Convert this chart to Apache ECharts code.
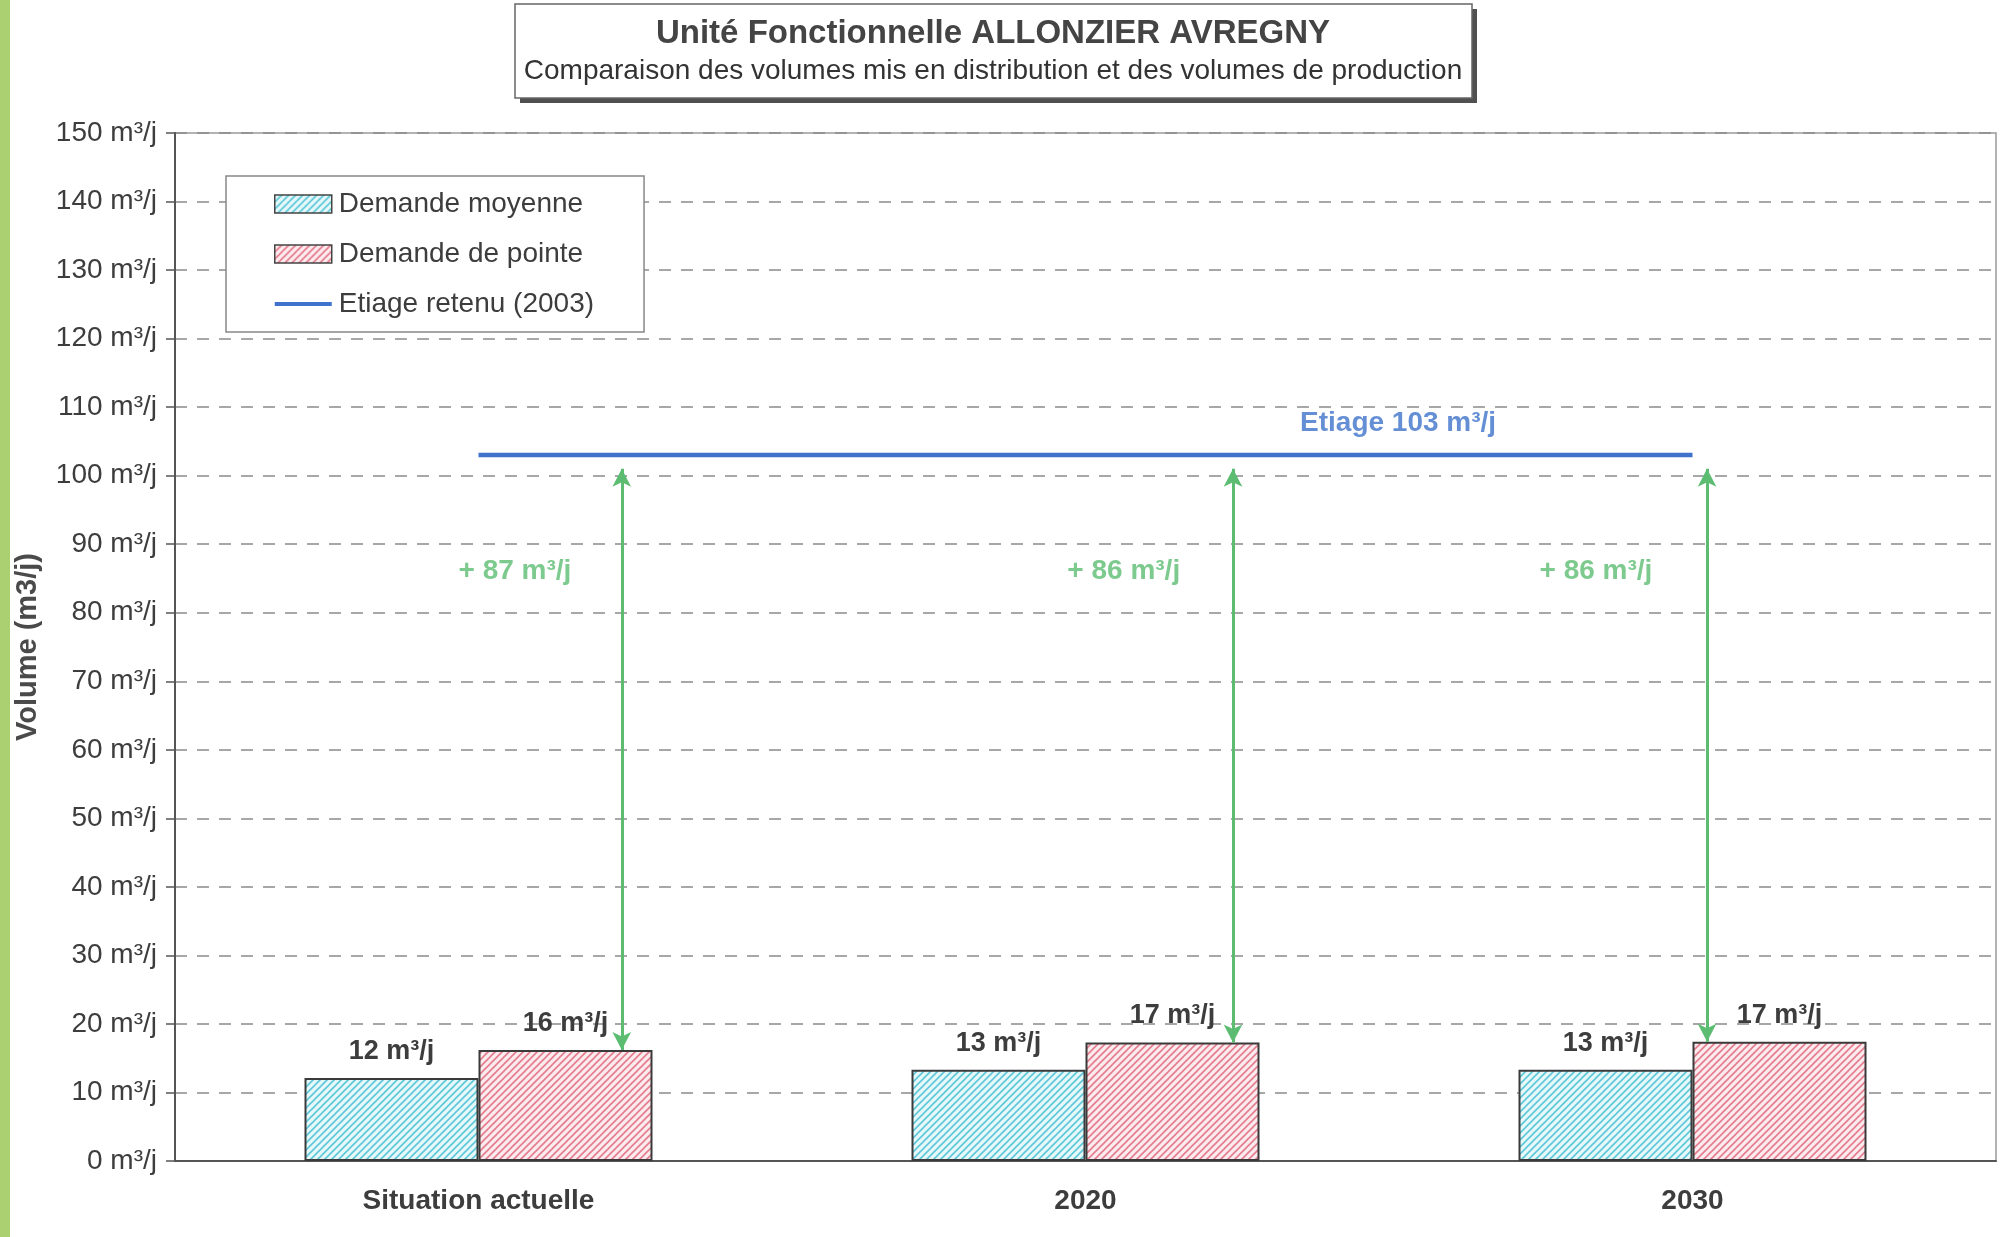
<!DOCTYPE html>
<html>
<head>
<meta charset="utf-8">
<script src="https://cdn.jsdelivr.net/npm/echarts@6/dist/echarts.min.js"></script>
<style>
  html, body { margin: 0; padding: 0; background: #fff; }
  #chart { width: 2002px; height: 1237px; }
</style>
</head>
<body>
<div id="chart"></div>
<script>
var categories = ['Situation actuelle', '2020', '2030'];
var demandeMoyenne = [12.1, 13.3, 13.3];
var demandePointe = [16.2, 17.3, 17.4];
var etiage = [103, 103, 103];
var etiageLabel = 'Etiage 103 m³/j';

// hachures des barres
function hatch(bg, line) {
	var c = document.createElement('canvas');
	c.width = 7;
	c.height = 7;
	var ctx = c.getContext('2d');
	ctx.fillStyle = bg;
	ctx.fillRect(0, 0, 7, 7);
	ctx.strokeStyle = line;
	ctx.lineWidth = 1.6;
	ctx.beginPath();
	ctx.moveTo(-1, 8); ctx.lineTo(8, -1);
	ctx.moveTo(-1, 1); ctx.lineTo(1, -1);
	ctx.moveTo(6, 8); ctx.lineTo(8, 6);
	ctx.stroke();
	return { image: c, repeat: 'repeat' };
}

var textColor = '#3d3d3d';
var green = '#5cbd72';
var blue = '#3f73cb';

// fleches entre l'etiage et la demande de pointe
var arrowOffset = [0.736, 0.743, 0.524];
var gapOffset = [0.56, 0.563, 0.341];
var arrows = [];
var gaps = [];
for (var i = 0; i < categories.length; i++) {
	var x = i + arrowOffset[i];
	arrows.push([{ coord: [x, etiage[i] - 2] }, { coord: [x, demandePointe[i]] }]);
	gaps.push({
		value: [i + gapOffset[i], 86],
		name: '+ ' + Math.round(etiage[i] - demandePointe[i]) + ' m³/j'
	});
}

var option = {
	backgroundColor: '#fff',
	animation: false,
	title: {
		text: 'Unité Fonctionnelle ALLONZIER AVREGNY',
		subtext: 'Comparaison des volumes mis en distribution et des volumes de production',
		left: 987,
		top: 13,
		textAlign: 'center',
		padding: [4, 6, 4, 6],
		itemGap: 7,
		z: 10,
		textStyle: { fontFamily: 'Liberation Sans', fontSize: 33, fontWeight: 'bold', color: '#444' },
		subtextStyle: { fontFamily: 'Liberation Sans', fontSize: 28, color: '#333' }
	},
	legend: {
		orient: 'vertical',
		left: 226,
		top: 176,
		padding: [14, 50, 14, 48],
		itemGap: 22,
		itemWidth: 57,
		itemHeight: 18,
		borderColor: '#888',
		borderWidth: 1.5,
		backgroundColor: '#fff',
		textStyle: { fontFamily: 'Liberation Sans', fontSize: 28, color: textColor, padding: [0, 0, 0, 2] },
		data: [
			{ name: 'Demande moyenne', icon: 'rect', itemStyle: { borderColor: '#444', borderWidth: 1.5 } },
			{ name: 'Demande de pointe', icon: 'rect', itemStyle: { borderColor: '#444', borderWidth: 1.5 } },
			{ name: 'Etiage retenu (2003)', icon: 'path://M0,0H60V4H0Z', itemStyle: { color: blue } }
		]
	},
	grid: {
		left: 175,
		right: 6,
		top: 133,
		bottom: 76,
		outerBoundsMode: 'none',
		show: true,
		borderColor: '#9a9a9a',
		borderWidth: 1.5
	},
	xAxis: [{
		type: 'category',
		data: categories,
		boundaryGap: true,
		axisLine: { lineStyle: { color: '#555', width: 2 } },
		axisTick: { length: 8, lineStyle: { color: '#555', width: 2 } },
		axisLabel: { margin: 26, fontFamily: 'Liberation Sans', fontSize: 28, fontWeight: 'bold', color: textColor }
	}, {
		type: 'value',
		min: 0,
		max: 3,
		show: false
	}],
	yAxis: {
		type: 'value',
		min: 0,
		max: 150,
		interval: 10,
		name: 'Volume (m3/j)',
		nameLocation: 'middle',
		nameGap: 133,
		nameRotate: 90,
		nameTextStyle: { fontFamily: 'Liberation Sans', fontSize: 29, fontWeight: 'bold', color: '#4a4a4a' },
		axisLine: { show: true, lineStyle: { color: '#555', width: 2 } },
		axisTick: { show: true, length: 9, lineStyle: { color: '#555', width: 1.5 } },
		axisLabel: {
			margin: 18,
			fontFamily: 'Liberation Sans',
			fontSize: 28,
			color: textColor,
			formatter: '{value} m³/j'
		},
		splitLine: { lineStyle: { color: '#8a8a8a', width: 1.5, type: [12, 10] } }
	},
	graphic: [{
		type: 'rect',
		left: 0,
		top: 0,
		shape: { width: 10, height: 1237 },
		style: { fill: '#abd072' }
	}, {
		// cadre du titre avec ombre
		type: 'rect',
		x: 520,
		y: 9,
		shape: { width: 957, height: 94 },
		style: { fill: '#505050' }
	}, {
		type: 'rect',
		x: 515,
		y: 4,
		shape: { width: 957, height: 94 },
		style: { fill: '#fff', stroke: '#666', lineWidth: 1.5 }
	}],
	series: [{
		name: 'Demande moyenne',
		type: 'bar',
		data: demandeMoyenne,
		barWidth: 174,
		barGap: '0%',
		itemStyle: { color: hatch('#e6f8fa', '#5ec8d8'), borderColor: '#3a3a3a', borderWidth: 2 },
		label: {
			show: true,
			position: 'top',
			distance: 13,
			fontFamily: 'Liberation Sans',
			fontSize: 27,
			fontWeight: 'bold',
			color: textColor,
			formatter: function (p) { return Math.round(p.value) + ' m³/j'; }
		}
	}, {
		name: 'Demande de pointe',
		type: 'bar',
		data: demandePointe,
		barWidth: 174,
		barGap: '0%',
		itemStyle: { color: hatch('#fcebee', '#e57c8e'), borderColor: '#3a3a3a', borderWidth: 2 },
		label: {
			show: true,
			position: 'top',
			distance: 13,
			fontFamily: 'Liberation Sans',
			fontSize: 27,
			fontWeight: 'bold',
			color: textColor,
			formatter: function (p) { return Math.round(p.value) + ' m³/j'; }
		}
	}, {
		name: 'Etiage retenu (2003)',
		type: 'line',
		data: etiage,
		symbol: 'none',
		z: 5,
		lineStyle: { color: blue, width: 4.5 },
		itemStyle: { color: blue }
	}, {
		// etiquette de l'etiage
		type: 'scatter',
		xAxisIndex: 1,
		symbolSize: 0,
		silent: true,
		data: [{ value: [2.015, etiage[2]], name: etiageLabel }],
		label: {
			show: true,
			position: 'top',
			distance: 18,
			formatter: '{b}',
			fontFamily: 'Liberation Sans',
			fontSize: 28,
			fontWeight: 'bold',
			color: blue
		}
	}, {
		// ecarts etiage / pointe
		type: 'scatter',
		xAxisIndex: 1,
		symbolSize: 0,
		silent: true,
		data: gaps,
		label: {
			show: true,
			position: 'inside',
			formatter: '{b}',
			fontFamily: 'Liberation Sans',
			fontSize: 28,
			fontWeight: 'bold',
			color: green
		},
		markLine: {
			silent: true,
			symbol: ['arrow', 'arrow'],
			symbolSize: [14, 18],
			label: { show: false },
			lineStyle: { color: green, width: 3, type: 'solid' },
			data: arrows
		}
	}]
};

var myChart = echarts.init(document.getElementById('chart'));
myChart.setOption(option);
</script>
</body>
</html>
